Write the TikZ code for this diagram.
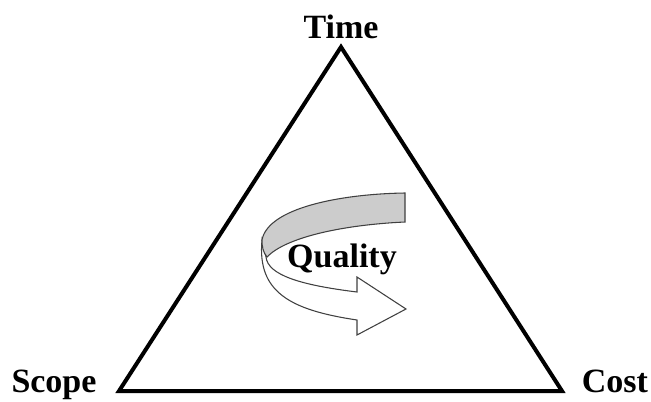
\documentclass[tikz,border=0pt]{standalone}
\usepackage{fontspec}
\setmainfont{Liberation Serif}
\begin{document}
\begin{tikzpicture}[x=0.75pt,y=-0.75pt,
  lbl/.style={font=\fontsize{25.5}{29}\selectfont\bfseries, inner sep=0pt, anchor=base},
  arrowline/.style={draw=black!75, line width=0.8pt, line join=miter}]
\useasboundingbox (0,0) rectangle (651,401);
\coordinate (T) at (341,47);
\coordinate (L) at (119,391);
\coordinate (R) at (562,391);
\draw[line width=3pt] (T) -- (L) -- (R) -- cycle;
\node[lbl] (time) at (341,38) {Time};
\node[lbl] (scope) at (54,392) {Scope};
\node[lbl] (cost) at (615,392) {Cost};
% white lower band with arrow head
\draw[arrowline, fill=white] (262,240) .. controls (257,292) and (290,310) .. (357,320)
  -- (357,335) -- (406,309) -- (357,277) -- (357,292)
  .. controls (300,285) and (268,275) .. (266,257) -- cycle;
% grey upper band
\draw[arrowline, fill=black!20] (405,193) -- (405,222)
  .. controls (340,225) and (285,238) .. (267,257)
  .. controls (263,252) and (262,247) .. (262,240)
  .. controls (268,208) and (340,194) .. (405,193) -- cycle;
\node[lbl] (quality) at (342,267) {Quality};
\end{tikzpicture}
\end{document}
